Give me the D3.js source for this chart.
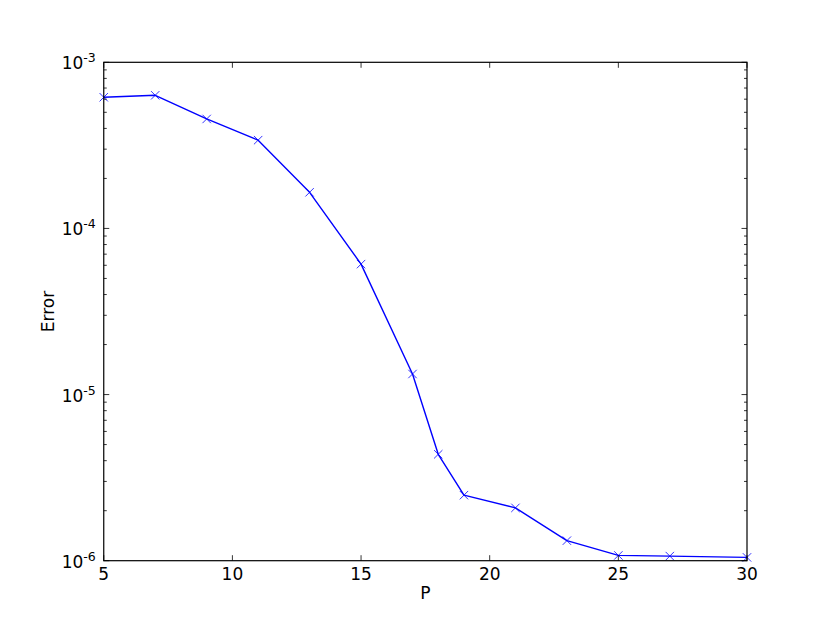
<!DOCTYPE html>
<html><head><meta charset="utf-8">
<script src="https://cdn.jsdelivr.net/npm/d3@7"></script>
<style>body{margin:0;background:#fff}text{font-family:"DejaVu Sans",sans-serif}</style>
</head><body>
<svg id="c" width="830" height="623"></svg>
<script>
const P = [5, 7, 9, 11, 13, 15, 17, 18, 19, 21, 23, 25, 27, 30];
const errorVals = [6.16e-4, 6.33e-4, 4.56e-4, 3.40e-4, 1.65e-4, 6.1e-5, 1.33e-5, 4.37e-6, 2.48e-6, 2.08e-6, 1.32e-6, 1.076e-6, 1.066e-6, 1.047e-6];
const xTicks = [5, 10, 15, 20, 25, 30];
const yExponents = [-6, -5, -4, -3];

const svg = d3.select("#c");
const L = 103.75, R = 747, T = 62.3, B = 560.7;
const x = d3.scaleLinear().domain([5, 30]).range([L, R]);
const y = d3.scaleLog().domain([1e-6, 1e-3]).range([B, T]);
const fs = 17;

// line
svg.append("path")
  .datum(P.map((p, i) => [p, errorVals[i]]))
  .attr("fill", "none").attr("stroke", "#0000ff").attr("stroke-width", 1.4)
  .attr("stroke-linejoin", "round")
  .attr("d", d3.line().x(d => x(d[0])).y(d => y(d[1])));

// markers
const ms = 4.2;
const mk = svg.append("g").attr("stroke", "#0000ff").attr("stroke-width", 0.8);
P.forEach((p, i) => {
  const cx = x(p), cy = y(errorVals[i]);
  mk.append("path").attr("d", `M${cx-ms},${cy-ms}L${cx+ms},${cy+ms}M${cx-ms},${cy+ms}L${cx+ms},${cy-ms}`);
});

// frame
svg.append("rect").attr("x", L).attr("y", T).attr("width", R - L).attr("height", B - T)
  .attr("fill", "none").attr("stroke", "#000").attr("stroke-width", 1.2);

const tk = svg.append("g").attr("stroke", "#000").attr("stroke-width", 0.8);
// x ticks
xTicks.forEach(t => {
  const px = x(t);
  tk.append("line").attr("x1", px).attr("x2", px).attr("y1", B).attr("y2", B - 5.5);
  tk.append("line").attr("x1", px).attr("x2", px).attr("y1", T).attr("y2", T + 5.5);
  svg.append("text").attr("x", px).attr("y", B + 19).attr("text-anchor", "middle")
    .attr("font-size", fs).text(t);
});
// y ticks
yExponents.forEach((e, i) => {
  const v = Math.pow(10, e), py = y(v);
  tk.append("line").attr("x1", L).attr("x2", L + 5.5).attr("y1", py).attr("y2", py);
  tk.append("line").attr("x1", R).attr("x2", R - 5.5).attr("y1", py).attr("y2", py);
  const t = svg.append("text").attr("x", L - 8).attr("y", py + 7).attr("text-anchor", "end").attr("font-size", fs);
  t.append("tspan").text("10");
  t.append("tspan").attr("dy", -7).attr("font-size", 12.5).text("-" + (-e));
  if (i < yExponents.length - 1) {
    for (let m = 2; m <= 9; m++) {
      const pm = y(m * v);
      tk.append("line").attr("x1", L).attr("x2", L + 3).attr("y1", pm).attr("y2", pm);
      tk.append("line").attr("x1", R).attr("x2", R - 3).attr("y1", pm).attr("y2", pm);
    }
  }
});

svg.append("text").attr("x", (L + R) / 2).attr("y", 599).attr("text-anchor", "middle").attr("font-size", fs).text("P");
svg.append("text").attr("transform", `translate(54,${(T + B) / 2}) rotate(-90)`).attr("text-anchor", "middle")
  .attr("font-size", fs).text("Error");
</script>
</body></html>
